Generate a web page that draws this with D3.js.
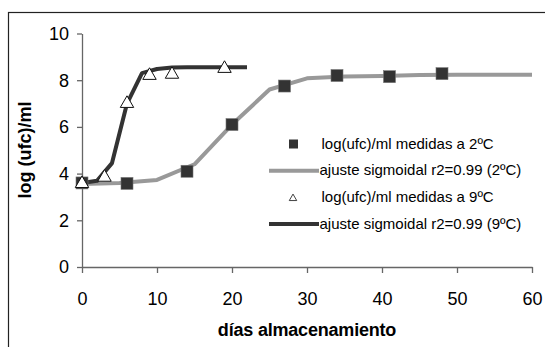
<!DOCTYPE html>
<html>
<head>
<meta charset="utf-8">
<script src="https://cdn.jsdelivr.net/npm/d3@7"></script>
<style>
  body { margin: 0; background: #fff; }
  svg { display: block; font-family: "Liberation Sans", Arial, sans-serif; }
</style>
</head>
<body>
<svg id="chart" width="545" height="347"></svg>
<script>
// measured values (2ºC squares, 9ºC triangles)
const days2 = [0, 6, 14, 20, 27, 34, 41, 48];
const log2 = [3.6, 3.58, 4.1, 6.1, 7.75, 8.2, 8.15, 8.28];
const days9 = [0, 3, 6, 9, 12, 19];
const log9 = [3.57, 3.84, 7.0, 8.2, 8.25, 8.5];

// sigmoidal fit curves
const fitDays2 = [0, 5, 10, 15, 20, 25, 30, 35, 40, 45, 50, 55, 60];
const fit2 = [3.55, 3.6, 3.73, 4.4, 6.1, 7.6, 8.08, 8.16, 8.18, 8.22, 8.23, 8.23, 8.23];
const fitDays9 = [0, 2, 4, 6, 8, 10, 12, 14, 16, 18, 20, 22];
const fit9 = [3.6, 3.69, 4.45, 7.0, 8.3, 8.48, 8.54, 8.55, 8.55, 8.55, 8.55, 8.55];

const xTicks = [0, 10, 20, 30, 40, 50, 60];
const yTicks = [0, 2, 4, 6, 8, 10];

const legendLabels = [
  "log(ufc)/ml medidas a 2ºC",
  "ajuste sigmoidal r2=0.99 (2ºC)",
  "log(ufc)/ml medidas a 9ºC",
  "ajuste sigmoidal r2=0.99 (9ºC)",
];

const svg = d3.select("#chart");

// outer frame (right/bottom edges fall outside the picture)
svg.append("rect")
  .attr("x", 8.5).attr("y", 12.5)
  .attr("width", 560).attr("height", 360)
  .attr("fill", "none").attr("stroke", "#222").attr("stroke-width", 1.2);

const x = d3.scaleLinear().domain([0, 60]).range([82, 532]);
const y = d3.scaleLinear().domain([0, 10]).range([267, 33.5]);

const axisColor = "#666";

const gx = svg.append("g")
  .attr("transform", "translate(0,267)")
  .call(d3.axisBottom(x).tickValues(xTicks).tickSize(6).tickSizeOuter(0).tickPadding(19));
const gy = svg.append("g")
  .attr("transform", "translate(82,0)")
  .call(d3.axisLeft(y).tickValues(yTicks).tickSize(5).tickSizeOuter(0).tickPadding(8));

[gx, gy].forEach((g) => {
  g.select(".domain").attr("stroke", axisColor).attr("stroke-width", 1.3);
  g.selectAll(".tick line").attr("stroke", axisColor).attr("stroke-width", 1.3);
  g.selectAll(".tick text")
    .attr("fill", "#000")
    .style("font-size", "18px")
    .style("font-family", "Liberation Sans, Arial, sans-serif");
});
gy.selectAll(".tick text").attr("dy", "0.33em");

// axis titles
svg.append("text")
  .attr("x", 307).attr("y", 336)
  .attr("text-anchor", "middle")
  .style("font-size", "18px").style("font-weight", "bold")
  .style("letter-spacing", "-0.2px")
  .text("días almacenamiento");

svg.append("text")
  .attr("transform", "translate(31,150) rotate(-90)")
  .attr("text-anchor", "middle")
  .style("font-size", "18px").style("font-weight", "bold")
  .text("log (ufc)/ml");

const line = d3.line().x((d) => x(d[0])).y((d) => y(d[1]));

// fit lines
svg.append("path")
  .datum(d3.zip(fitDays2, fit2))
  .attr("d", line)
  .attr("fill", "none").attr("stroke", "#999").attr("stroke-width", 4)
  .attr("stroke-linejoin", "round");

svg.append("path")
  .datum(d3.zip(fitDays9, fit9))
  .attr("d", line)
  .attr("fill", "none").attr("stroke", "#333").attr("stroke-width", 4)
  .attr("stroke-linejoin", "round");

// squares
const sq = 12;
svg.selectAll(".sq")
  .data(d3.zip(days2, log2))
  .join("rect")
  .attr("class", "sq")
  .attr("x", (d) => x(d[0]) - sq / 2)
  .attr("y", (d) => y(d[1]) - sq / 2)
  .attr("width", sq).attr("height", sq)
  .attr("fill", "#333").attr("stroke", "#777").attr("stroke-width", 0.6);

// triangles
const tri = d3.symbol().type(d3.symbolTriangle).size(78);
svg.selectAll(".tri")
  .data(d3.zip(days9, log9))
  .join("path")
  .attr("class", "tri")
  .attr("transform", (d) => `translate(${x(d[0])},${y(d[1])})`)
  .attr("d", tri)
  .attr("fill", "#fff").attr("stroke", "#111").attr("stroke-width", 1);

// legend
const legend = svg.append("g").attr("transform", "translate(0,144)");
const rowH = 26.7;
legendLabels.forEach((label, i) => {
  const row = legend.append("g").attr("transform", `translate(0,${i * rowH})`);
  if (i === 0) {
    row.append("rect").attr("x", 289).attr("y", -4.5).attr("width", 9).attr("height", 9)
      .attr("fill", "#333");
  } else if (i === 2) {
    row.append("path").attr("transform", "translate(293,1)")
      .attr("d", d3.symbol().type(d3.symbolTriangle).size(24))
      .attr("fill", "#fff").attr("stroke", "#111").attr("stroke-width", 0.8);
  } else {
    row.append("line").attr("x1", 269).attr("x2", 319).attr("y1", 0).attr("y2", 0)
      .attr("stroke", i === 1 ? "#999" : "#333").attr("stroke-width", 4);
  }
  row.append("text")
    .attr("x", i % 2 === 0 ? 321.5 : 319.5).attr("y", 4.5)
    .style("font-size", "15px")
    .text(label);
});
</script>
</body>
</html>
